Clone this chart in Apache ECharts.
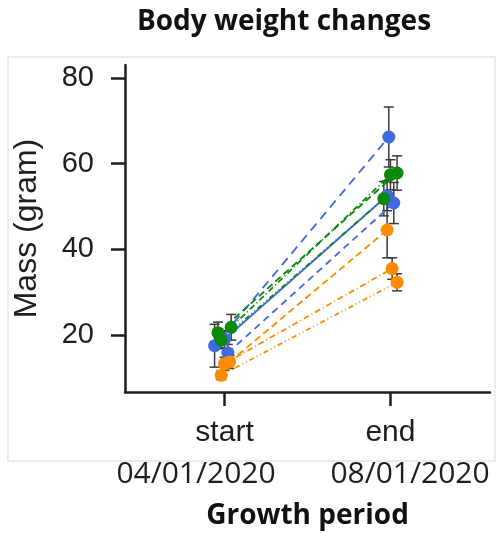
<!DOCTYPE html>
<html>
<head>
<meta charset="utf-8">
<script src="https://cdn.jsdelivr.net/npm/echarts@6/dist/echarts.min.js"></script>
<style>
  html, body { margin: 0; padding: 0; background: #fff; }
  #chart { width: 498px; height: 537px; }
</style>
</head>
<body>
<div id="chart"></div>
<script>
// 每只个体：起始与结束体重 (g)，x 为抖动位置
var subjects = ['B1', 'B2', 'B3', 'G1', 'G2', 'G3', 'O1', 'O2', 'O3'];
var groupOf = ['blue', 'blue', 'blue', 'green', 'green', 'green', 'orange', 'orange', 'orange'];
var startMass = [17.5, 15.8, 19.0, 21.8, 20.5, 18.8, 13.7, 13.3, 10.6];
var endMass = [66.2, 50.8, 52.5, 57.4, 57.8, 51.8, 44.5, 35.5, 32.3];
var startSD = [5.0, 2.0, 2.0, 3.0, 2.5, 2.0, 1.5, 1.5, 1.0];
var endSD = [7.0, 4.8, 3.5, 3.5, 4.0, 4.0, 6.5, 2.5, 2.0];
var startX = [-0.06, 0.02, 0.0, 0.04, -0.04, -0.02, 0.03, 0.0, -0.02];
var endX = [0.99, 1.02, 0.98, 1.0, 1.04, 0.96, 0.98, 1.01, 1.04];
var periodLabels = ['start', 'end'];
var periodDates = ['04/01/2020', '08/01/2020'];
var yTicks = [20, 40, 60, 80];

// 样式
var colors = { blue: '#4169e1', green: '#0a8a0a', orange: '#ff8c00' };
var dashes = [[9, 6], [7, 5], 'solid', [6, 3, 1, 3], [7, 4], [5, 3, 1, 3, 1, 3], [7, 4], [6, 3, 1, 3], [5, 3, 1, 3, 1, 3]];

var series = [];

// 误差线
var errData = [];
subjects.forEach(function(s, i) {
    errData.push([startX[i], startMass[i] - startSD[i], startMass[i] + startSD[i]]);
    errData.push([endX[i], endMass[i] - endSD[i], endMass[i] + endSD[i]]);
});
series.push({
    type: 'custom',
    z: 1,
    silent: true,
    data: errData,
    renderItem: function(params, api) {
        var lo = api.coord([api.value(0), api.value(1)]);
        var hi = api.coord([api.value(0), api.value(2)]);
        var w = 5;
        var st = { stroke: '#3a3a3a', lineWidth: 1.5 };
        return {
            type: 'group',
            children: [
                { type: 'line', shape: { x1: lo[0], y1: lo[1], x2: hi[0], y2: hi[1] }, style: st },
                { type: 'line', shape: { x1: lo[0] - w, y1: lo[1], x2: lo[0] + w, y2: lo[1] }, style: st },
                { type: 'line', shape: { x1: hi[0] - w, y1: hi[1], x2: hi[0] + w, y2: hi[1] }, style: st }
            ]
        };
    }
});

subjects.forEach(function(s, i) {
    var c = colors[groupOf[i]];
    series.push({
        name: s,
        type: 'line',
        z: 2,
        symbol: 'circle',
        symbolSize: 13,
        itemStyle: { color: c },
        lineStyle: { color: c, width: 1.8, type: dashes[i] },
        data: [[startX[i], startMass[i]], [endX[i], endMass[i]]]
    });
});

var option = {
    animation: false,
    backgroundColor: '#ffffff',
    title: {
        text: 'Body weight changes',
        left: 279,
        top: 3,
        textAlign: 'center',
        textStyle: { fontFamily: 'Open Sans', fontWeight: 'bold', fontSize: 28, color: '#111' }
    },
    grid: { left: 125, right: 8, top: 65, bottom: 145, containLabel: false, outerBoundsMode: 'none' },
    xAxis: {
        type: 'value',
        min: -0.6,
        max: 1.6,
        name: 'Growth period',
        nameLocation: 'middle',
        nameGap: 110,
        nameTextStyle: { fontFamily: 'Open Sans', fontWeight: 'bold', fontSize: 28, color: '#111' },
        axisLine: { onZero: false, lineStyle: { color: '#1e1e1e', width: 2.5 } },
        axisTick: { show: true, length: 14, customValues: [0, 1], lineStyle: { color: '#1e1e1e', width: 2.5 } },
        axisLabel: {
            customValues: [0, 1],
            margin: 26,
            fontFamily: 'Liberation Sans',
            fontSize: 30,
            color: '#1e1e1e',
            formatter: function(v) { return periodLabels[Math.round(v)]; }
        },
        splitLine: { show: false }
    },
    yAxis: {
        type: 'value',
        min: 6.7,
        max: 83,
        name: 'Mass (gram)',
        nameLocation: 'middle',
        nameGap: 82,
        nameTextStyle: { fontFamily: 'Liberation Sans', fontSize: 32, color: '#1e1e1e' },
        axisLine: { show: true, onZero: false, lineStyle: { color: '#1e1e1e', width: 2.5 } },
        axisTick: { show: true, length: 14, customValues: yTicks, lineStyle: { color: '#1e1e1e', width: 2.5 } },
        axisLabel: {
            customValues: yTicks,
            margin: 31,
            fontFamily: 'Liberation Sans',
            fontSize: 29,
            color: '#1e1e1e'
        },
        splitLine: { show: false }
    },
    graphic: [
        {
            type: 'rect',
            z: -10,
            shape: { x: 8, y: 57, width: 487, height: 404 },
            style: { fill: 'none', stroke: '#e6e6e6', lineWidth: 1.5 }
        },
        {
            type: 'text', x: 196, y: 474,
            style: { text: periodDates[0], fontFamily: 'Open Sans', fontSize: 30, fill: '#1e1e1e', align: 'center', verticalAlign: 'middle' }
        },
        {
            type: 'text', x: 410, y: 474,
            style: { text: periodDates[1], fontFamily: 'Open Sans', fontSize: 30, fill: '#1e1e1e', align: 'center', verticalAlign: 'middle' }
        }
    ],
    series: series
};

var myChart = echarts.init(document.getElementById('chart'));
myChart.setOption(option);
</script>
</body>
</html>
